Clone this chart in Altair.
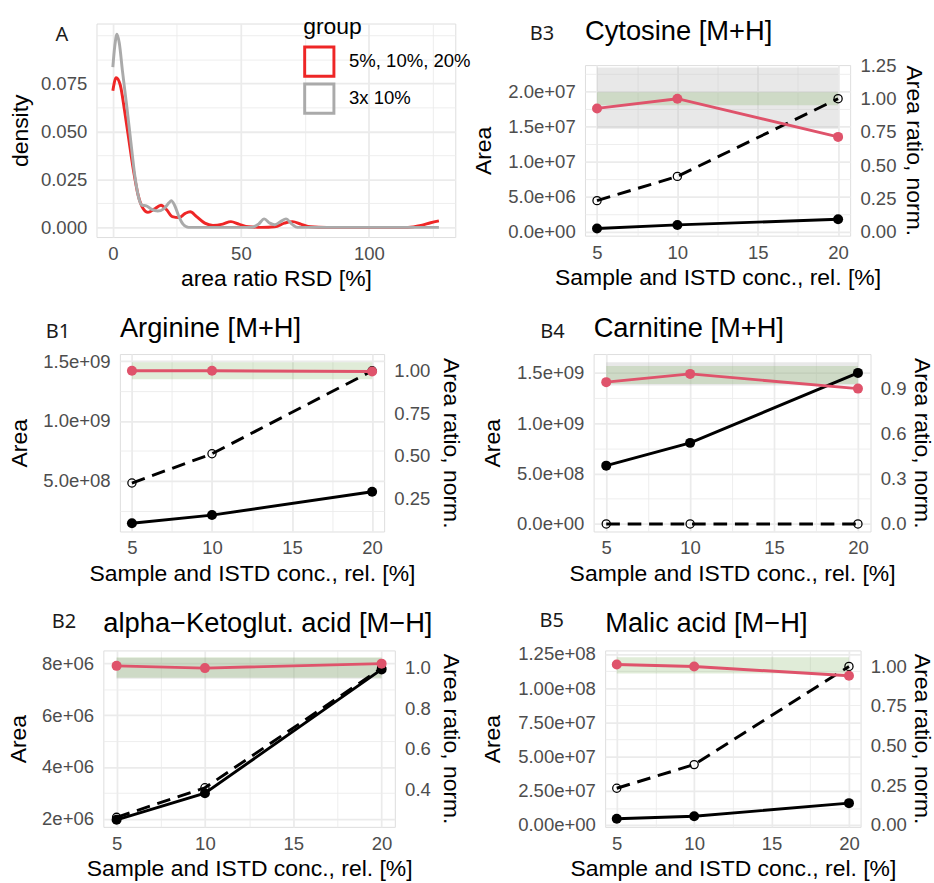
import altair as alt
import pandas as pd

FONT = "Liberation Sans"
TAG_FONT = "Noto Sans"
GRID = "#EBEBEB"
AXIS_TXT = "#4D4D4D"
RED_DENS = "#EE2626"
GREY_DENS = "#AAAAAA"
RATIO_RED = "#DF536B"
BAND_STYLE = {"grey": ("#BEBEBE", 0.35), "green": ("#7FAF5A", 0.24)}
TICK_SIZE = 19
AXTITLE_SIZE = 23.5
TITLE_SIZE = 28
TAG_SIZE = 20.5

# ---------------- Panel A : density of area ratio RSD ----------------
GROUPS = ["5%, 10%, 20%", "3x 10%"]
RSD_RED = [0, 1.3, 2.9, 4.6, 6.1, 8.0, 9.9, 11.8, 13.7, 16.2, 18.8, 21.1, 23.2, 25.8,
           28.3, 30.2, 32.7, 35.9, 39.1, 42.9, 46.1, 49.2, 53.0, 58.1, 63.2, 67.0, 70.2,
           73.4, 77.2, 83.5, 115.2, 120.3, 124.1, 127.3]
DENS_RED = [0.0711, 0.0779, 0.0741, 0.0606, 0.047, 0.0301, 0.0166, 0.0098, 0.0078, 0.0095,
            0.0115, 0.009, 0.0056, 0.0051, 0.0073, 0.0081, 0.0056, 0.0022, 0.001, 0.0017,
            0.003, 0.0017, 0.0003, 0.0, 0.0003, 0.0022, 0.003, 0.0017, 0.0003, 0.0, 0.0,
            0.001, 0.0024, 0.0034]
RSD_GREY = [0, 0.76, 1.6, 2.5, 3.8, 5.5, 7.1, 8.6, 10.2, 11.4, 13.1, 15.0, 17.5, 20.0, 22.0,
            22.8, 24.1, 25.8, 27.4, 29.6, 54.3, 56.9, 59.1, 61.3, 63.2, 65.5, 67.6, 69.9,
            72.1, 127.3]
DENS_GREY = [0.0834, 0.0944, 0.1005, 0.0961, 0.0809, 0.0623, 0.0437, 0.0267, 0.0149, 0.0115,
             0.0112, 0.0095, 0.0085, 0.0098, 0.0129, 0.0139, 0.0115, 0.0056, 0.0017, 0.0,
             0.0, 0.0017, 0.0044, 0.0022, 0.0014, 0.003, 0.0044, 0.0017, 0.0, 0.0]
A_X_TICKS = [0, 25, 50, 75, 100, 125]
A_X_LABELS = ["0", "", "50", "", "100", ""]
A_Y_TICKS = [0, 0.0125, 0.025, 0.0375, 0.05, 0.0625, 0.075, 0.0875, 0.1]
A_Y_LABELS = ["0.000", "", "0.025", "", "0.050", "", "0.075", "", ""]

# ---------------- Panels B : dilution series ----------------
CONC = [5, 10, 20]
B_X_TICKS = [5, 7.5, 10, 12.5, 15, 17.5, 20]
B_X_LABELS = ["5", "", "10", "", "15", "", "20"]

B1_AREA = [1.47e8, 2.15e8, 4.10e8]
B1_ISTD = [0.34, 0.512, 1.0]
B1_RATIO = [1.0, 1.0, 0.996]
B1_BANDS = (["green"], [0.95], [1.05])
B1_LEFT_TICKS = [2.5e8, 5e8, 7.5e8, 1e9, 1.25e9, 1.5e9]
B1_LEFT_LABELS = ["", "5.0e+08", "", "1.0e+09", "", "1.5e+09"]
B1_RIGHT_TICKS = [0.25, 0.5, 0.75, 1.0]
B1_RIGHT_LABELS = ["0.25", "0.50", "0.75", "1.00"]

B2_AREA = [1.962e6, 2.99e6, 7.77e6]
B2_ISTD = [0.263, 0.409, 1.0]
B2_RATIO = [1.011, 1.0, 1.022]
B2_BANDS = (["grey", "green"], [0.948, 0.952], [1.05, 1.053])
B2_LEFT_TICKS = [2e6, 3e6, 4e6, 5e6, 6e6, 7e6, 8e6]
B2_LEFT_LABELS = ["2e+06", "", "4e+06", "", "6e+06", "", "8e+06"]
B2_RIGHT_TICKS = [0.4, 0.6, 0.8, 1.0]
B2_RIGHT_LABELS = ["0.4", "0.6", "0.8", "1.0"]

B3_AREA = [4.6e5, 9.8e5, 1.78e6]
B3_ISTD = [0.234, 0.416, 1.0]
B3_RATIO = [0.927, 1.0, 0.713]
B3_BANDS = (["grey", "green"], [0.774, 0.951], [1.235, 1.049])
B3_LEFT_TICKS = [0, 2.5e6, 5e6, 7.5e6, 1e7, 1.25e7, 1.5e7, 1.75e7, 2e7, 2.25e7]
B3_LEFT_LABELS = ["0.0e+00", "", "5.0e+06", "", "1.0e+07", "", "1.5e+07", "", "2.0e+07", ""]
B3_RIGHT_TICKS = [0, 0.25, 0.5, 0.75, 1.0, 1.25]
B3_RIGHT_LABELS = ["0.00", "0.25", "0.50", "0.75", "1.00", "1.25"]

B4_AREA = [5.79e8, 8.05e8, 1.5e9]
B4_ISTD = [0.0, 0.0, 0.0]
B4_RATIO = [0.945, 1.0, 0.902]
B4_BANDS = (["grey", "green"], [0.922, 0.933], [1.078, 1.052])
B4_LEFT_TICKS = [0, 2.5e8, 5e8, 7.5e8, 1e9, 1.25e9, 1.5e9]
B4_LEFT_LABELS = ["0.0e+00", "", "5.0e+08", "", "1.0e+09", "", "1.5e+09"]
B4_RIGHT_TICKS = [0, 0.3, 0.6, 0.9]
B4_RIGHT_LABELS = ["0.0", "0.3", "0.6", "0.9"]

B5_AREA = [4.6e6, 6.4e6, 1.6e7]
B5_ISTD = [0.232, 0.381, 1.0]
B5_RATIO = [1.012, 1.0, 0.941]
B5_BANDS = (["green"], [0.955], [1.058])
B5_LEFT_TICKS = [0, 1.25e7, 2.5e7, 3.75e7, 5e7, 6.25e7, 7.5e7, 8.75e7, 1e8, 1.125e8, 1.25e8]
B5_LEFT_LABELS = ["0.00e+00", "", "2.50e+07", "", "5.00e+07", "", "7.50e+07", "", "1.00e+08",
                  "", "1.25e+08"]
B5_RIGHT_TICKS = [0, 0.25, 0.5, 0.75, 1.0]
B5_RIGHT_LABELS = ["0.00", "0.25", "0.50", "0.75", "1.00"]


def _tol(values):
    span = max(abs(v) for v in values) or 1.0
    return span * 1e-9


def label_expr(values, labels):
    tol = _tol(values)
    expr = "''"
    for v, lab in reversed(list(zip(values, labels))):
        if lab:
            expr = f"(abs(datum.value - ({float(v)!r})) < {tol!r} ? '{lab}' : {expr})"
    return expr


def major_test(values, labels):
    tol = _tol(values)
    conds = [f"abs(datum.value - ({float(v)!r})) < {tol!r}" for v, lab in zip(values, labels) if lab]
    return " || ".join(conds) if conds else "false"


def make_axis(values, labels, orient, title, grid=True, **extra):
    props = dict(
        values=values, labelExpr=label_expr(values, labels), orient=orient, title=title,
        grid=grid, domain=False, ticks=False, labelFont=FONT, labelFontSize=TICK_SIZE,
        labelColor=AXIS_TXT, titleFont=FONT, titleFontSize=AXTITLE_SIZE, titleColor="black",
        titleFontWeight="normal", labelPadding=10, titlePadding=7, labelFlush=False,
        labelOverlap=False,
    )
    if orient == "bottom":
        props.update(labelPadding=8, titlePadding=4)
    if grid:
        props["gridColor"] = GRID
        props["gridWidth"] = {"condition": {"test": major_test(values, labels), "value": 1.8},
                              "value": 0.9}
    props.update(extra)
    return alt.Axis(**props)


def text_layer(text, dx, dy, font, size, color):
    return alt.Chart(pd.DataFrame({"label": [text]})).mark_text(
        font=font, fontSize=size, color=color, align="left", baseline="alphabetic"
    ).encode(x=alt.value(dx), y=alt.value(dy), text="label:N")


def spacer(w, h):
    return alt.Chart(pd.DataFrame({"s": [0]})).mark_rect(
        color="white", opacity=0, strokeOpacity=0
    ).encode(
        x=alt.value(0), x2=alt.value(w), y=alt.value(0), y2=alt.value(h)
    ).properties(width=w, height=h,
                 view=alt.ViewBackground(stroke="transparent", fill="transparent"))


# ---------- Panel A ----------
dens = pd.DataFrame({
    "rsd": RSD_RED + RSD_GREY,
    "density": DENS_RED + DENS_GREY,
    "group": [GROUPS[0]] * len(RSD_RED) + [GROUPS[1]] * len(RSD_GREY),
})
a_lines = alt.Chart(dens).mark_line(strokeWidth=3, interpolate="monotone").encode(
    x=alt.X("rsd:Q", scale=alt.Scale(domain=[-6.37, 133.7], nice=False, zero=False),
            axis=make_axis(A_X_TICKS, A_X_LABELS, "bottom", "area ratio RSD [%]")),
    y=alt.Y("density:Q", scale=alt.Scale(domain=[-0.00505, 0.1061], nice=False, zero=False),
            axis=make_axis(A_Y_TICKS, A_Y_LABELS, "left", "density", titlePadding=8.5,
                           minExtent=57.5, maxExtent=57.5)),
    color=alt.Color("group:N", sort=GROUPS,
                    scale=alt.Scale(domain=GROUPS, range=[RED_DENS, GREY_DENS]),
                    legend=alt.Legend(
                        title="group", orient="none", legendX=308, legendY=-8.3,
                        titleFont=FONT, titleFontSize=AXTITLE_SIZE, titleFontWeight="normal",
                        titleColor="black", labelFont=FONT, labelFontSize=TICK_SIZE,
                        labelColor="black", symbolType="square", symbolSize=900,
                        symbolStrokeWidth=3, symbolFillColor="transparent",
                        rowPadding=-6.3, labelOffset=14, titlePadding=7.3)),
)
panel_a = alt.layer(
    a_lines, text_layer("A", -42, 18, TAG_FONT, TAG_SIZE, "#1A1A1A")
).properties(width=368, height=219)


# ---------- Panels B ----------
def b_panel(tag, tag_xy, title, title_dy, area, istd, ratio, bands, left_dom, k,
            lt, ll, left_extent, left_tp, rt, rl, right_tp, width, height):
    df = pd.DataFrame({"conc": CONC, "area": area, "istd": istd, "ratio": ratio})
    bdf = pd.DataFrame({"band": bands[0], "lo": bands[1], "hi": bands[2]})
    bdf["x0"] = min(CONC)
    bdf["x1"] = max(CONC)
    xs = alt.Scale(domain=[4.25, 20.75], nice=False, zero=False)
    xa = make_axis(B_X_TICKS, B_X_LABELS, "bottom", "Sample and ISTD conc., rel. [%]")
    yl_s = alt.Scale(domain=left_dom, nice=False, zero=False)
    yl_a = make_axis(lt, ll, "left", "Area", titlePadding=left_tp,
                     minExtent=left_extent, maxExtent=left_extent)
    yr_s = alt.Scale(domain=[left_dom[0] / k, left_dom[1] / k], nice=False, zero=False)
    yr_a = make_axis(rt, rl, "right", "Area ratio, norm.", grid=False, titleAngle=90,
                     titlePadding=right_tp)
    x = alt.X("conc:Q", scale=xs, axis=xa)

    band_layers = []
    for name in bands[0]:
        fill, op = BAND_STYLE[name]
        band_layers.append(
            alt.Chart(bdf).transform_filter(alt.datum.band == name).transform_calculate(
                lo_a=f"datum.lo * {k!r}", hi_a=f"datum.hi * {k!r}"
            ).mark_rect(color=fill, opacity=op).encode(
                x=alt.X("x0:Q", scale=xs, axis=xa), x2="x1:Q",
                y=alt.Y("lo_a:Q", scale=yl_s, axis=yl_a), y2="hi_a:Q",
            )
        )
    base = alt.Chart(df)
    yl = alt.Y("area:Q", scale=yl_s, axis=yl_a)
    black_line = base.mark_line(color="black", strokeWidth=3).encode(x=x, y=yl)
    black_pts = base.mark_point(filled=True, color="black", size=105, opacity=1).encode(x=x, y=yl)
    left = alt.layer(*band_layers, black_line, black_pts)

    yi = alt.Y("istd:Q", scale=yr_s, axis=yr_a)
    yr = alt.Y("ratio:Q", scale=yr_s, axis=yr_a)
    dashed = base.mark_line(color="black", strokeWidth=3, strokeDash=[14, 8]).encode(x=x, y=yi)
    open_pts = base.mark_point(filled=False, color="black", size=70, strokeWidth=1.3,
                               opacity=1).encode(x=x, y=yi)
    red_line = base.mark_line(color=RATIO_RED, strokeWidth=3).encode(x=x, y=yr)
    red_pts = base.mark_point(filled=True, color=RATIO_RED, size=105, opacity=1).encode(x=x, y=yr)
    right = alt.layer(dashed, open_pts, red_line, red_pts)

    return alt.layer(
        left, right,
        text_layer(tag, tag_xy[0], tag_xy[1], TAG_FONT, TAG_SIZE, "#1A1A1A"),
        text_layer(title, 0, title_dy, FONT, TITLE_SIZE, "black"),
    ).resolve_scale(y="independent").properties(width=width, height=height)


panel_b3 = b_panel("B3", (-56.6, -25.5), "Cytosine [M+H]", -25.5, B3_AREA, B3_ISTD, B3_RATIO,
                   B3_BANDS, [-5.6e5, 2.38e7], 1.9e7, B3_LEFT_TICKS, B3_LEFT_LABELS, 79.2, 12.8,
                   B3_RIGHT_TICKS, B3_RIGHT_LABELS, 5.5, 272, 175)
panel_b1 = b_panel("B1", (-76, -16.7), "Arginine [M+H]", -17.3, B1_AREA, B1_ISTD, B1_RATIO,
                   B1_BANDS, [7.8e7, 1.56e9], 1.42e9, B1_LEFT_TICKS, B1_LEFT_LABELS, 79.2, 11.8,
                   B1_RIGHT_TICKS, B1_RIGHT_LABELS, 8.5, 271, 182)
panel_b4 = b_panel("B4", (-54.7, -16.7), "Carnitine [M+H]", -17.3, B4_AREA, B4_ISTD, B4_RATIO,
                   B4_BANDS, [-7.5e7, 1.687e9], 1.49e9, B4_LEFT_TICKS, B4_LEFT_LABELS, 79.2, 12.8,
                   B4_RIGHT_TICKS, B4_RIGHT_LABELS, 3.5, 284, 182)
panel_b2 = b_panel("B2", (-53, -23.4), "alpha\u2212Ketoglut. acid [M\u2212H]", -18.4, B2_AREA,
                   B2_ISTD, B2_RATIO, B2_BANDS, [1.687e6, 8.502e6], 7.82e6, B2_LEFT_TICKS,
                   B2_LEFT_LABELS, 63.4, 11.6, B2_RIGHT_TICKS, B2_RIGHT_LABELS, 8, 299, 181)
panel_b5 = b_panel("B5", (-67.3, -23.7), "Malic acid [M\u2212H]", -18.7, B5_AREA, B5_ISTD,
                   B5_RATIO, B5_BANDS, [-1.36e6, 1.276e8], 1.159e8, B5_LEFT_TICKS,
                   B5_LEFT_LABELS, 89.8, 13.2, B5_RIGHT_TICKS, B5_RIGHT_LABELS, 3.5, 262, 181)

# spacers shift each left panel horizontally and B3 vertically (ggplot/patchwork layout)
left1 = alt.hconcat(spacer(4.2, 1), panel_a, spacing=0)
left2 = alt.hconcat(spacer(2.9, 1), panel_b1, spacing=0)
left3 = alt.hconcat(spacer(2.5, 1), panel_b2, spacing=0)
right1 = alt.vconcat(spacer(1, 1), panel_b3, spacing=-7.4)

row1 = alt.hconcat(left1, right1, spacing=15)
row2 = alt.hconcat(left2, panel_b4, spacing=17.9)
row3 = alt.hconcat(left3, panel_b5, spacing=18.7)

chart = alt.vconcat(row1, row2, row3, spacing=25).properties(
    padding={"left": 2, "top": 3.7, "right": 0, "bottom": 0}
).configure_view(stroke=None).configure(background="white", font=FONT)

chart.save("out.html", embed_options={"renderer": "svg", "actions": False})
